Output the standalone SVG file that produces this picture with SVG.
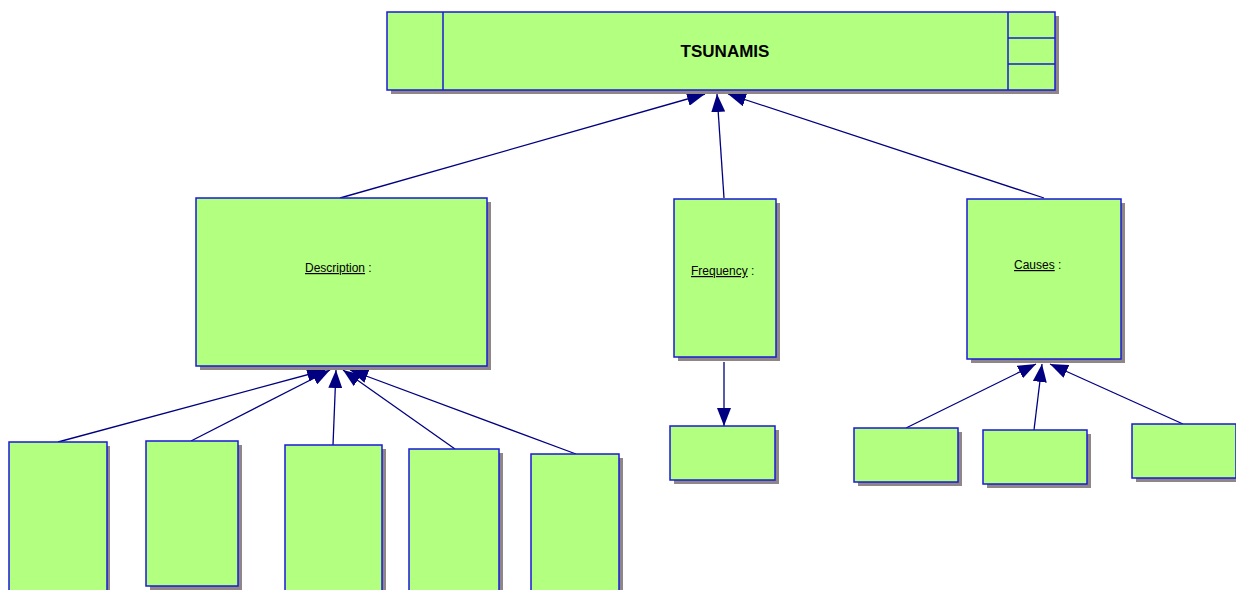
<svg xmlns="http://www.w3.org/2000/svg" width="1236" height="590" viewBox="0 0 1236 590">
<style>
.box{fill:#b3ff80;stroke:#1a1ad9;stroke-width:1.5}
.sh{fill:#8f8787}
.ln{stroke:#000080;stroke-width:1.3;fill:none}
.lbl{font-family:"Liberation Sans",Arial,sans-serif;font-size:12px;fill:#000}
.title{font-family:"Liberation Sans",Arial,sans-serif;font-size:17px;font-weight:bold;fill:#000}
</style>
<defs>
<marker id="ah" viewBox="0 0 18 14" refX="18" refY="7" markerWidth="18" markerHeight="14" markerUnits="userSpaceOnUse" orient="auto">
<path d="M0,0 L18,7 L0,14 Z" fill="#000080"/>
</marker>
</defs>
<rect width="1236" height="590" fill="#fff"/>
<g id="connectors">
<line class="ln" x1="340" y1="198" x2="705" y2="94" marker-end="url(#ah)"/>
<line class="ln" x1="724" y1="198" x2="717" y2="94" marker-end="url(#ah)"/>
<line class="ln" x1="1044" y1="198" x2="728" y2="94" marker-end="url(#ah)"/>
<line class="ln" x1="58" y1="442" x2="325" y2="370" marker-end="url(#ah)"/>
<line class="ln" x1="191" y1="441" x2="330" y2="370" marker-end="url(#ah)"/>
<line class="ln" x1="333" y1="445" x2="336" y2="370" marker-end="url(#ah)"/>
<line class="ln" x1="455" y1="449" x2="343" y2="370" marker-end="url(#ah)"/>
<line class="ln" x1="576" y1="454" x2="350" y2="370" marker-end="url(#ah)"/>
<line class="ln" x1="724" y1="362" x2="724" y2="426" marker-end="url(#ah)"/>
<line class="ln" x1="906" y1="428" x2="1036" y2="364" marker-end="url(#ah)"/>
<line class="ln" x1="1034" y1="430" x2="1042" y2="364" marker-end="url(#ah)"/>
<line class="ln" x1="1183" y1="424" x2="1050" y2="364" marker-end="url(#ah)"/>
</g>
<g id="tsunamis">
<rect class="sh" x="391" y="16" width="668" height="78"/>
<rect class="box" x="387" y="12" width="668" height="78"/>
<line x1="443" y1="12" x2="443" y2="90" stroke="#1a1ad9" stroke-width="1.5"/>
<line x1="1008" y1="12" x2="1008" y2="90" stroke="#1a1ad9" stroke-width="1.5"/>
<line x1="1008" y1="38" x2="1055" y2="38" stroke="#1a1ad9" stroke-width="1.5"/>
<line x1="1008" y1="64" x2="1055" y2="64" stroke="#1a1ad9" stroke-width="1.5"/>
<text class="title" x="725" y="57" text-anchor="middle">TSUNAMIS</text>
</g>
<g id="description">
<rect class="sh" x="200" y="202" width="291" height="168"/>
<rect class="box" x="196" y="198" width="291" height="168"/>
<text class="lbl" x="305" y="272"><tspan text-decoration="underline">Description</tspan> :</text>
</g>
<g id="frequency">
<rect class="sh" x="678" y="203" width="102" height="158"/>
<rect class="box" x="674" y="199" width="102" height="158"/>
<text class="lbl" x="691" y="275"><tspan text-decoration="underline">Frequency</tspan> :</text>
</g>
<g id="causes">
<rect class="sh" x="971" y="203" width="154" height="160"/>
<rect class="box" x="967" y="199" width="154" height="160"/>
<text class="lbl" x="1014" y="269"><tspan text-decoration="underline">Causes</tspan> :</text>
</g>
<g id="d1"><rect class="sh" x="12" y="446" width="98" height="150"/><rect class="box" x="9" y="442" width="98" height="150"/></g>
<g id="d2"><rect class="sh" x="150" y="445" width="92" height="145"/><rect class="box" x="146" y="441" width="92" height="145"/></g>
<g id="d3"><rect class="sh" x="289" y="449" width="97" height="150"/><rect class="box" x="285" y="445" width="97" height="150"/></g>
<g id="d4"><rect class="sh" x="413" y="453" width="90" height="150"/><rect class="box" x="409" y="449" width="90" height="150"/></g>
<g id="d5"><rect class="sh" x="535" y="458" width="88" height="150"/><rect class="box" x="531" y="454" width="88" height="150"/></g>
<g id="f1"><rect class="sh" x="674" y="430" width="105" height="54"/><rect class="box" x="670" y="426" width="105" height="54"/></g>
<g id="c1"><rect class="sh" x="858" y="432" width="104" height="54"/><rect class="box" x="854" y="428" width="104" height="54"/></g>
<g id="c2"><rect class="sh" x="987" y="434" width="104" height="54"/><rect class="box" x="983" y="430" width="104" height="54"/></g>
<g id="c3"><rect class="sh" x="1136" y="428" width="104" height="54"/><rect class="box" x="1132" y="424" width="104" height="54"/></g>
</svg>
